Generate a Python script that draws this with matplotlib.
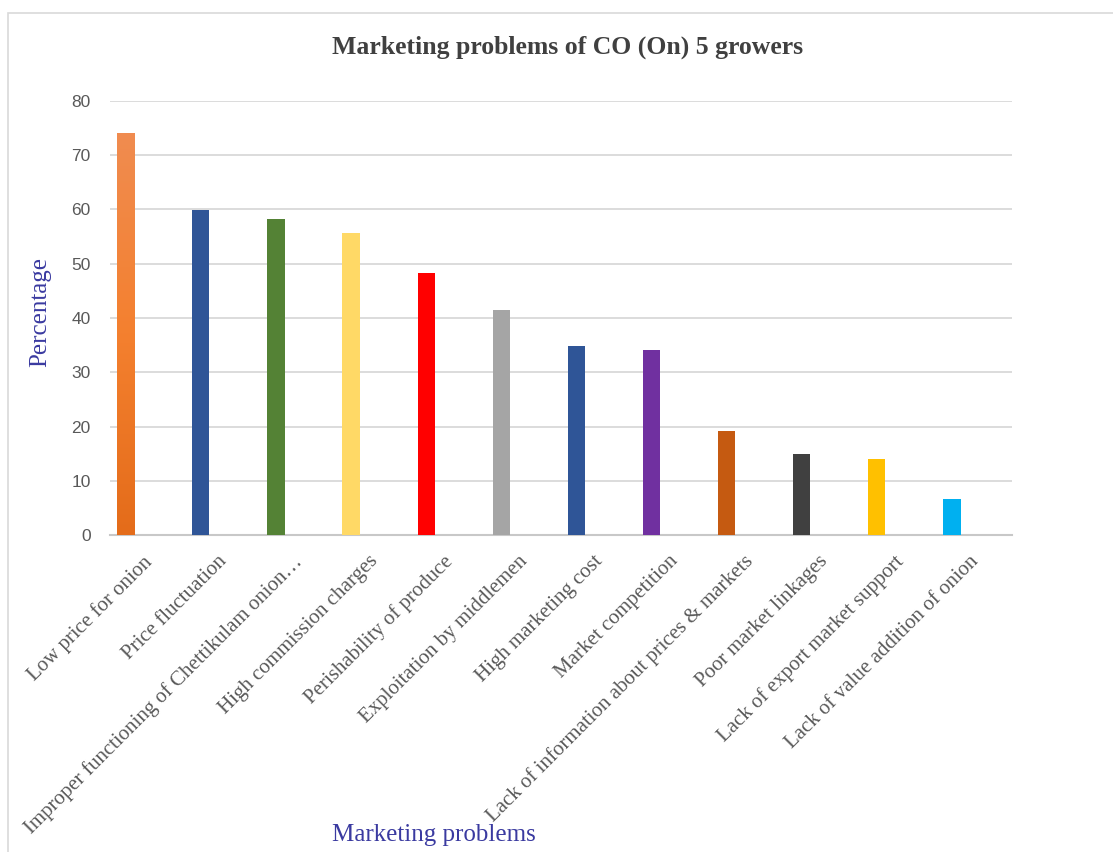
import numpy as np
import matplotlib.pyplot as plt
import matplotlib.transforms as mtransforms
from matplotlib.patches import Rectangle
from matplotlib.colors import LinearSegmentedColormap

problems = [
    "Low price for onion",
    "Price fluctuation",
    "Improper functioning of Chettikulam onion\u2026",
    "High commission charges",
    "Perishability of produce",
    "Exploitation by middlemen",
    "High marketing cost",
    "Market competition",
    "Lack of information about prices & markets",
    "Poor market linkages",
    "Lack of export market support",
    "Lack of value addition of onion",
]
percent = [74.1, 59.9, 58.2, 55.7, 48.3, 41.5, 34.8, 34.1, 19.2, 14.9, 14.0, 6.6]
colors = ["#ED7D31", "#2F5597", "#548235", "#FFD966", "#FF0000", "#A5A5A5",
          "#2F5597", "#7030A0", "#C55A11", "#404040", "#FFC000", "#00B0F0"]

fig = plt.figure(figsize=(11.13, 8.52), dpi=100)
ax = fig.add_axes([0.0988, 0.372, 0.8105, 0.5095])

x = np.arange(len(problems))
bars = ax.bar(x, percent, width=0.23, color=colors, zorder=3)

# first bar has a gradient fill: lighter orange at the top
b0 = bars[0]
grad = np.linspace(0, 1, 256).reshape(-1, 1)
cmap = LinearSegmentedColormap.from_list("og", ["#E46C1A", "#F4802F", "#F08C50"])
im = ax.imshow(grad, cmap=cmap, origin="lower", aspect="auto", zorder=3.5,
               extent=[b0.get_x(), b0.get_x() + b0.get_width(), 0, b0.get_height()])
im.set_clip_path(b0)

ax.set_xlim(-0.21, 11.8)
ax.set_ylim(0, 80)
ax.set_yticks(range(0, 81, 10))
ax.yaxis.grid(True, color="#D9D9D9", lw=1.3, zorder=0)
ax.set_axisbelow(True)
for s in ["top", "right", "left"]:
    ax.spines[s].set_visible(False)
ax.spines["bottom"].set_color("#C8C8C8")
ax.spines["bottom"].set_linewidth(1.5)
ax.tick_params(axis="both", length=0)
ax.tick_params(axis="y", pad=14)

ax.set_xticks(x)
ax.set_xticklabels(problems, rotation=45, ha="right", rotation_mode="anchor",
                   fontfamily="Liberation Serif", fontsize=15, color="#595959")
shift = mtransforms.ScaledTranslation(0.17, -0.12, fig.dpi_scale_trans)
for lab in ax.get_xticklabels():
    lab.set_transform(lab.get_transform() + shift)
for lab in ax.get_yticklabels():
    lab.set_fontfamily("Liberation Sans")
    lab.set_fontsize(12.5)
    lab.set_color("#595959")

fig.text(0.51, 0.945, "Marketing problems of CO (On) 5 growers", ha="center", va="center",
         fontfamily="Liberation Serif", fontweight="bold", fontsize=18.5, color="#404040")
fig.text(0.036, 0.634, "Percentage", rotation=90, ha="center", va="center",
         fontfamily="Liberation Serif", fontsize=18, color="#3A3AA0")
fig.text(0.39, 0.02, "Marketing problems", ha="center", va="center",
         fontfamily="Liberation Serif", fontsize=18, color="#3A3AA0")

fig.patches.append(Rectangle((0.007, -0.01), 1.0, 0.995, transform=fig.transFigure,
                             fill=False, edgecolor="#D9D9D9", lw=1.2))

fig.savefig("out.png", dpi=100)
